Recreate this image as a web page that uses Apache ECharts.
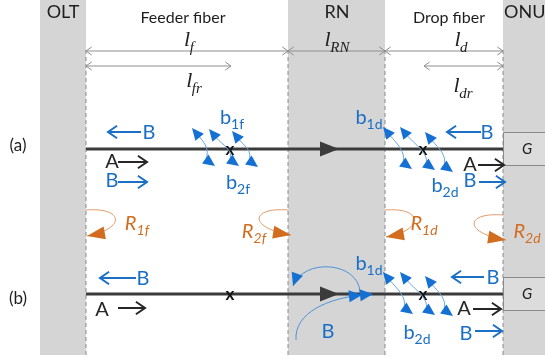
<!DOCTYPE html>
<html>
<head>
<meta charset="utf-8">
<script src="https://cdn.jsdelivr.net/npm/echarts@6/dist/echarts.min.js"></script>
<style>
  html, body { margin: 0; padding: 0; background: #fff; }
  #main { width: 545px; height: 361px; }
</style>
</head>
<body>
<div id="main"></div>
<script>
// ---------------- diagram data (x along the link, y down the sheet) ----------------
const nodeNames     = ['OLT', 'RN', 'ONU'];
const nodeLeft      = [40, 288, 503];
const nodeRight     = [86, 385, 545];
const nodeNameX     = [63, 337, 504];
const nodeNameAlign = ['center', 'center', 'left'];
const panelBottom   = 355;

const fiberNames = ['Feeder fiber', 'Drop fiber'];
const fiberNameX = [183, 449];

const boundaryX = [86, 288, 385, 503];

const spanSub    = ['f', 'fr', 'RN', 'd', 'dr'];
const spanFrom   = [86, 86, 288, 385, 424];
const spanTo     = [288, 231, 385, 503, 503];
const spanY      = [51, 66, 51, 51, 66];
const spanLabelX = [189, 194, 337, 461, 463];
const spanLabelY = [40, 81, 40, 40, 86];

const rowNames  = ['(a)', '(b)'];
const rowY      = [149, 294];
const rowLabelY = [146, 299];
const cutX      = [230, 423];

// lettered signal arrows
const sigLetter  = ['B', 'A', 'B', 'B', 'A', 'B', 'B', 'A', 'B', 'A', 'B'];
const sigLetterX = [149, 112, 112, 487, 470, 470, 143, 102, 493, 464, 466];
const sigLetterY = [133, 162, 181, 133, 165, 181, 279, 310, 278, 309, 334];
const sigTail    = [141, 118, 118, 481, 478, 479, 136, 118, 484, 473, 475];
const sigTip     = [108, 147, 147, 447, 504, 505, 100, 145, 452, 501, 502];
const sigShaftY  = [132, 162, 182, 132, 165, 182, 278, 308, 277, 309, 331];

// Rayleigh back-scattering arrow pairs (upper tip -> lower tip)
const bsTopX = [[192, 209, 232], [383, 400, 425], [383, 400, 425]];
const bsTopY = [[128, 129, 131], [127, 127, 132], [272, 272, 276]];
const bsBotX = [[215, 239, 258], [412, 435, 453], [413, 435, 453]];
const bsBotY = [[166, 166, 167], [169, 170, 172], [314, 315, 316]];
const bsName  = ['1f', '2f', '1d', '2d', '1d', '2d'];
const bsNameX = [232, 238, 369, 445, 369, 417];
const bsNameY = [118, 183, 118, 186, 264, 333];

// discrete reflections
const reflSub    = ['1f', '2f', '1d', '2d'];
const reflX      = [86, 288, 385, 503];
const reflSide   = [1, -1, 1, -1];
const reflTopY   = [210, 210, 210, 215];
const reflTipY   = [236, 235, 237, 240];
const reflLabelX = [137, 254, 424, 527];
const reflLabelY = [224, 232, 224, 232];

// loop of B through the remote node, row (b)
const rnLoopUpper = [[360, 292], [358, 261], [303, 258], [293, 286]];
const rnLoopLower = [[296, 340], [294, 312], [330, 298], [362, 295]];
const rnLoopHead  = [373, 294];
const rnLoopName  = ['B', 328, 332];

// ---------------- styling ----------------
const SANS  = 'Lato, "Open Sans", "DejaVu Sans", sans-serif';
const SERIF = '"Liberation Serif", "DejaVu Serif", serif';
const BLUE = '#1b6fc4', BLUE_HEAD = '#1470d2', BLUE_THIN = '#6aa5dc';
const ORANGE = '#d26c1f', ORANGE_THIN = '#e09a66';
const INK = '#1e1e1e', DIM = '#8e8e8e', PANEL = '#d5d5d5';

const measure = document.createElement('canvas').getContext('2d');
function textW(s, font) { measure.font = font; return measure.measureText(s).width; }

function P(api, x, y) { return api.coord([x, y]); }
function txt(p, s, font, color, align) {
  return { type: 'text', x: p[0], y: p[1],
    style: { text: s, font: font, fill: color, align: align || 'center', verticalAlign: 'middle',
             textAlign: align || 'center', textVerticalAlign: 'middle' } };
}
function subLabel(p, main, sub, mainFont, subFont, subDy, color, kern) {
  const w1 = textW(main, mainFont), w2 = textW(sub, subFont);
  const x0 = p[0] - (w1 + w2 - (kern || 0)) / 2;
  return [txt([x0, p[1]], main, mainFont, color, 'left'),
          txt([x0 + w1 - (kern || 0), p[1] + subDy], sub, subFont, color, 'left')];
}
function seg(a, b, color, lw, dash) {
  return { type: 'line', shape: { x1: a[0], y1: a[1], x2: b[0], y2: b[1] },
           style: { stroke: color, lineWidth: lw, lineDash: dash || null } };
}
function head(tip, ang, len, hw, color) {
  const c = Math.cos(ang), s = Math.sin(ang);
  const bx = tip[0] - len * c, by = tip[1] - len * s;
  return { type: 'polygon', shape: { points: [tip, [bx - hw * s, by + hw * c], [bx + hw * s, by - hw * c]] },
           style: { fill: color } };
}
function chev(tip, ang, len, spread, color, lw) {
  const a1 = ang + Math.PI - spread, a2 = ang + Math.PI + spread;
  return { type: 'polyline',
    shape: { points: [[tip[0] + len * Math.cos(a1), tip[1] + len * Math.sin(a1)], tip,
                      [tip[0] + len * Math.cos(a2), tip[1] + len * Math.sin(a2)]] },
    style: { stroke: color, lineWidth: lw, fill: null } };
}
function cubic(p0, p1, p2, p3, color, lw) {
  return { type: 'bezierCurve',
    shape: { x1: p0[0], y1: p0[1], cpx1: p1[0], cpy1: p1[1], cpx2: p2[0], cpy2: p2[1], x2: p3[0], y2: p3[1] },
    style: { stroke: color, lineWidth: lw, fill: null } };
}
function ang(from, to) { return Math.atan2(to[1] - from[1], to[0] - from[0]); }

function layer(list, render) {
  return {
    type: 'custom', coordinateSystem: 'cartesian2d', silent: true, animation: false,
    data: list.map((_, i) => [i, 0]),
    renderItem: (params, api) => ({ type: 'group', children: render(api.value(0), api) })
  };
}

const UP_LEFT = -Math.PI * 0.72, DOWN_RIGHT = Math.PI * 0.2;

const series = [
  // equipment panels
  layer(nodeNames, (i, api) => {
    const a = P(api, nodeLeft[i], 0), b = P(api, nodeRight[i], panelBottom);
    return [
      { type: 'rect', shape: { x: a[0], y: a[1], width: b[0] - a[0], height: b[1] - a[1] }, style: { fill: PANEL } },
      txt(P(api, nodeNameX[i], 12), nodeNames[i], '18px ' + SANS, INK, nodeNameAlign[i])
    ];
  }),
  // fibre section names
  layer(fiberNames, (i, api) => [txt(P(api, fiberNameX[i], 18), fiberNames[i], '16px ' + SANS, INK)]),
  // dashed section boundaries
  layer(boundaryX, (i, api) => [seg(P(api, boundaryX[i], 50), P(api, boundaryX[i], panelBottom), '#8a8a8a', 1, [4, 3])]),
  // length dimensions
  layer(spanSub, (i, api) => {
    const a = P(api, spanFrom[i], spanY[i]), b = P(api, spanTo[i], spanY[i]);
    return [
      seg(a, b, DIM, 1),
      chev(a, Math.PI, 7, 0.62, DIM, 1),
      chev(b, 0, 7, 0.62, DIM, 1)
    ].concat(subLabel(P(api, spanLabelX[i], spanLabelY[i]), 'l', spanSub[i],
      'italic 22px ' + SERIF, 'italic 15px ' + SERIF, 8, '#222', 0.5));
  }),
  // fibre rows: link, direction arrow, gain block, cut marks
  layer(rowNames, (i, api) => {
    const y = rowY[i];
    const g0 = P(api, 503, y - 17), g1 = P(api, 546, y + 16);
    const kids = [
      seg(P(api, 86, y), P(api, 503, y), '#3b3b3b', 3),
      { type: 'polygon', shape: { points: [P(api, 339, y), P(api, 320, y - 7.5), P(api, 320, y + 7.5)] },
        style: { fill: '#3b3b3b' } },
      { type: 'rect', shape: { x: g0[0] + 0.5, y: g0[1] + 0.5, width: g1[0] - g0[0], height: g1[1] - g0[1] },
        style: { fill: '#dcdcdc', stroke: '#8a8a8a', lineWidth: 1 } },
      txt(P(api, 527, y), 'G', 'italic 15px ' + SANS, INK),
      txt(P(api, 18, rowLabelY[i]), rowNames[i], '17px ' + SANS, INK)
    ];
    cutX.forEach(x => kids.push(txt(P(api, x, y + 1), 'x', 'bold 17px ' + SANS, '#111')));
    return kids;
  }),
  // lettered signal arrows
  layer(sigLetter, (i, api) => {
    const color = sigLetter[i] === 'A' ? '#262626' : BLUE;
    const a = P(api, sigTail[i], sigShaftY[i]), b = P(api, sigTip[i], sigShaftY[i]);
    return [
      seg(a, b, color, 2),
      chev(b, ang(a, b), 11, 0.6, color, 2),
      txt(P(api, sigLetterX[i], sigLetterY[i]), sigLetter[i], '20px ' + SANS, color)
    ];
  }),
  // back-scattering pairs: thin bowed link between an up-left and a down-right head
  layer(bsTopX, (k, api) => {
    const kids = [];
    bsTopX[k].forEach((tx, j) => {
      const T = P(api, tx, bsTopY[k][j]), B = P(api, bsBotX[k][j], bsBotY[k][j]);
      const Tb = [T[0] - 11 * Math.cos(UP_LEFT), T[1] - 11 * Math.sin(UP_LEFT)];
      const Bb = [B[0] - 11 * Math.cos(DOWN_RIGHT), B[1] - 11 * Math.sin(DOWN_RIGHT)];
      kids.push(cubic(Tb, [Tb[0] + 7, Tb[1] + 8], [Bb[0] + 3, Bb[1] - 10], Bb, BLUE_THIN, 1));
      kids.push(head(T, UP_LEFT, 12, 5.5, BLUE_HEAD));
      kids.push(head(B, DOWN_RIGHT, 12, 5.5, BLUE_HEAD));
    });
    return kids;
  }),
  layer(bsName, (i, api) =>
    subLabel(P(api, bsNameX[i], bsNameY[i]), 'b', bsName[i], '20px ' + SANS, '14px ' + SANS, 6, BLUE, 0)),
  // discrete reflections
  layer(reflSub, (i, api) => {
    const s = reflSide[i], x0 = reflX[i];
    const p0 = P(api, x0, reflTopY[i]);
    const c1 = P(api, x0 + s * 38, reflTopY[i] - 3);
    const c2 = P(api, x0 + s * 40, reflTipY[i] - 7);
    const tip = P(api, x0 + (s > 0 ? 1 : 3), reflTipY[i]);
    return [
      cubic(p0, c1, c2, tip, ORANGE_THIN, 1),
      head(tip, ang(c2, tip), 18, 6.5, ORANGE)
    ].concat(subLabel(P(api, reflLabelX[i], reflLabelY[i]), 'R', reflSub[i],
      'italic 20px ' + SANS, 'italic 14px ' + SANS, 6, ORANGE, 0));
  }),
  // B looping through the remote node
  layer([rnLoopName], (i, api) => {
    const U = rnLoopUpper.map(p => P(api, p[0], p[1]));
    const L = rnLoopLower.map(p => P(api, p[0], p[1]));
    const H = P(api, rnLoopHead[0], rnLoopHead[1]);
    return [
      cubic(U[0], U[1], U[2], U[3], '#4d92d8', 1),
      head(U[3], ang(U[2], U[3]), 13, 6, BLUE_HEAD),
      cubic(L[0], L[1], L[2], L[3], '#4d92d8', 1),
      head(L[3], ang(L[2], L[3]), 13, 6, BLUE_HEAD),
      head(H, -0.1, 13, 6, BLUE_HEAD),
      txt(P(api, rnLoopName[1], rnLoopName[2]), rnLoopName[0], '20px ' + SANS, BLUE)
    ];
  })
];

const chart = echarts.init(document.getElementById('main'), null, { renderer: 'canvas' });
chart.setOption({
  animation: false,
  backgroundColor: '#fff',
  grid: { left: 0, right: 0, top: 0, bottom: 0 },
  xAxis: { type: 'value', min: 0, max: 545, show: false },
  yAxis: { type: 'value', min: 0, max: 361, inverse: true, show: false },
  series: series
});
</script>
</body>
</html>
